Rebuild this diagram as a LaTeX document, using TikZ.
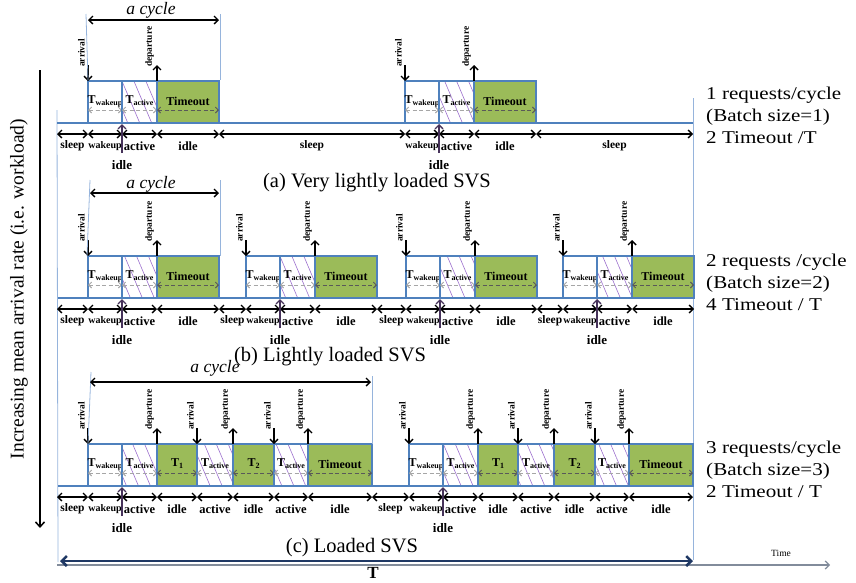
\documentclass[tikz,border=0pt]{standalone}
\usepackage{fontspec}
\setmainfont{Liberation Serif}
\usetikzlibrary{arrows.meta, patterns.meta}
\definecolor{boxblue}{RGB}{79,129,189}
\definecolor{lineblue}{RGB}{150,180,220}
\definecolor{timeoutgreen}{RGB}{155,187,89}
\definecolor{hatchpurple}{RGB}{155,110,205}
\definecolor{tickpurple}{RGB}{70,50,90}
\definecolor{navyT}{RGB}{31,56,100}
\definecolor{axisgrey}{RGB}{130,140,155}

\newcommand{\fs}[1]{\fontsize{#1}{#1}\selectfont}
\newcommand{\sub}[1]{\raisebox{-2pt}{\fs{8}#1}}

% boxes: left, right, base
\newcommand{\wakeupbox}[3]{%
  \draw[boxline, fill=white] (#1,#3) rectangle (#2,#3-42);
  \draw[inarrow] (#1,#3-13) -- (#2,#3-13);
  \node[boxlab] at ({(#1+#2)/2},#3-22) {T\sub{wakeup}};}
\newcommand{\activebox}[3]{%
  \fill[hatch] (#1,#3) rectangle (#2,#3-42);
  \draw[boxline] (#1,#3) rectangle (#2,#3-42);
  \draw[inarrow] (#1,#3-13) -- (#2,#3-13);
  \node[boxlab] at ({(#1+#2)/2},#3-22) {T\sub{active}};}
\newcommand{\idlebox}[4]{%
  \draw[boxline, fill=timeoutgreen] (#1,#3) rectangle (#2,#3-42);
  \draw[inarrow, draw=black!65] (#1,#3-13) -- (#2,#3-13);
  \node[boxlab] at ({(#1+#2)/2},#3-22) {#4};}

% events: x, top
\newcommand{\arrival}[2]{%
  \draw[evarrow] (#1,#2-16) -- (#1,#2);
  \node[evlab] at (#1-2,#2-13) {arrival};}
\newcommand{\departure}[2]{%
  \draw[evarrow] (#1,#2) -- (#1,#2-16);
  \node[evlab] at (#1-2,#2-13) {departure};}

% row under the axis: [style] left, right, base, label
\newcommand{\rowseg}[5][rowlab]{%
  \draw[rowarrow] (#2,#4+11) -- (#3,#4+11);
  \node[#1] at ({(#2+#3)/2},#4+23) {#5};}
\newcommand{\idletick}[2]{%
  \draw[tickarrow] (#1,#2+30) -- (#1,#2+1);
  \node[ticklab] at (#1,#2+42) {idle};}

% one request per cycle: start, base
\newcommand{\simplecycle}[2]{%
  \wakeupbox{#1}{#1+34}{#2}
  \activebox{#1+34}{#1+69}{#2}
  \idlebox{#1+69}{#1+131}{#2}{Timeout}
  \arrival{#1}{#2-42}
  \departure{#1+69}{#2-42}
  \rowseg[wklab]{#1}{#1+34}{#2}{wakeup}
  \rowseg{#1+34}{#1+69}{#2}{active}
  \rowseg{#1+69}{#1+131}{#2}{idle}
  \idletick{#1+34}{#2}}

% three requests per cycle: start, base
\newcommand{\batchcycle}[2]{%
  \wakeupbox{#1}{#1+34}{#2}
  \activebox{#1+34}{#1+69}{#2}
  \idlebox{#1+69}{#1+109}{#2}{T\sub{1}}
  \activebox{#1+109}{#1+145}{#2}
  \idlebox{#1+145}{#1+186}{#2}{T\sub{2}}
  \activebox{#1+186}{#1+220}{#2}
  \idlebox{#1+220}{#1+284}{#2}{Timeout}
  \arrival{#1}{#2-42}
  \arrival{#1+109}{#2-42}
  \arrival{#1+186}{#2-42}
  \departure{#1+69}{#2-42}
  \departure{#1+145}{#2-42}
  \departure{#1+220}{#2-42}
  \rowseg[wklab]{#1}{#1+34}{#2}{wakeup}
  \rowseg{#1+34}{#1+69}{#2}{active}
  \rowseg{#1+69}{#1+109}{#2}{idle}
  \rowseg{#1+109}{#1+145}{#2}{active}
  \rowseg{#1+145}{#1+186}{#2}{idle}
  \rowseg{#1+186}{#1+220}{#2}{active}
  \rowseg{#1+220}{#1+284}{#2}{idle}
  \idletick{#1+34}{#2}}

\begin{document}
\begin{tikzpicture}[
    x=1pt, y=-1pt,
    boxline/.style={draw=boxblue, line width=2pt},
    hatch/.style={pattern={Lines[angle=-67, distance=11pt, line width=0.6pt]}, pattern color=hatchpurple},
    inarrow/.style={draw=gray!70, line width=0.9pt, dash pattern=on 4pt off 2.5pt, {Straight Barb[length=3pt, width=6pt]}-{Straight Barb[length=3pt, width=6pt]}},
    rowarrow/.style={line width=1.3pt, {Straight Barb[length=4pt, width=8pt]}-{Straight Barb[length=4pt, width=8pt]}},
    evarrow/.style={line width=1.4pt, -{Straight Barb[length=4pt, width=8pt]}},
    tickarrow/.style={draw=tickpurple, line width=1.3pt, -{Straight Barb[length=4pt, width=8pt]}},
    axisline/.style={draw=boxblue, line width=2pt},
    frameline/.style={draw=lineblue, line width=0.8pt},
    cyclearrow/.style={line width=1.4pt, {Straight Barb[length=4pt, width=8pt]}-{Straight Barb[length=4pt, width=8pt]}},
    boxlab/.style={font=\fs{12}\bfseries, inner sep=0pt},
    rowlab/.style={font=\fs{12.5}\bfseries, inner sep=0pt},
    sllab/.style={font=\fs{11.5}\bfseries, inner sep=0pt},
    wklab/.style={font=\fs{10}\bfseries, inner sep=0pt},
    ticklab/.style={font=\fs{13}\bfseries, inner sep=0pt},
    evlab/.style={font=\fs{9.4}\bfseries, rotate=90, anchor=south west, inner sep=1pt},
    caption/.style={font=\fs{20.5}, inner sep=0pt},
    cyclab/.style={font=\fs{17.5}\itshape, inner sep=0pt},
    sidetext/.style={font=\fontsize{18}{22}\selectfont, align=left, anchor=west, xscale=1.17, inner sep=0pt}
]
\useasboundingbox (0,0) rectangle (856,582);

% Frame of the time line
\draw[frameline] (57,110) -- (58,562);
\draw[frameline] (693,98) -- (693,560);

% Workload axis
\coordinate (wtop) at (40,70);
\coordinate (wbot) at (40,528);
\draw[line width=1.5pt, -{Straight Barb[length=5pt, width=9pt]}] (wtop) -- (wbot);
\node[font=\fs{19.5}, rotate=90, inner sep=0pt] (wlab) at (19,289) {Increasing mean arrival rate (i.e. workload)};

% (a) Very lightly loaded SVS
\draw[axisline] (57,123) -- (693,123);
\simplecycle{88}{123}
\simplecycle{405}{123}
\rowseg[sllab]{57}{88}{123}{sleep}
\rowseg[sllab]{219}{405}{123}{sleep}
\rowseg[sllab]{536}{693}{123}{sleep}
\draw[frameline] (86,14) -- (88,80);
\draw[frameline] (220,14) -- (220,80);
\draw[cyclearrow] (88,20) -- (219,20);
\node[cyclab] (cyca) at (151,10) {a cycle};
\node[caption] (capa) at (377,183) {(a) Very lightly loaded SVS};
\node[sidetext] (sidea) at (706,115) {1 requests/cycle\\(Batch size=1)\\2 Timeout /T};

% (b) Lightly loaded SVS
\draw[axisline] (58,298) -- (693,298);
\foreach \s in {88,246,406,563} {\simplecycle{\s}{298}}
\rowseg[sllab]{57}{88}{298}{sleep}
\rowseg[sllab]{219}{246}{298}{sleep}
\rowseg[sllab]{377}{406}{298}{sleep}
\rowseg[sllab]{537}{563}{298}{sleep}
\draw[frameline] (90,180) -- (87,256);
\draw[frameline] (220,180) -- (220,256);
\draw[cyclearrow] (90,193) -- (219,193);
\node[cyclab] (cycb) at (151,184) {a cycle};
\node[caption] (capb) at (330,357) {(b) Lightly loaded SVS};
\node[sidetext] (sideb) at (706,282) {2 requests /cycle\\(Batch size=2)\\4 Timeout / T};

% (c) Loaded SVS
\draw[axisline] (58,486) -- (693,486);
\batchcycle{88}{486}
\batchcycle{409}{486}
\rowseg[sllab]{57}{88}{486}{sleep}
\rowseg[sllab]{372}{409}{486}{sleep}
\draw[frameline] (91,372) -- (88,444);
\draw[frameline] (372,376) -- (372,444);
\draw[cyclearrow] (90,382) -- (371,382);
\node[cyclab] (cycc) at (215,368) {a cycle};
\node[caption] (capc) at (352,548) {(c) Loaded SVS};
\node[sidetext] (sidec) at (706,469) {3 requests/cycle\\(Batch size=3)\\2 Timeout / T};

% Period T and time axis
\coordinate (tax0) at (57,565);
\coordinate (tax1) at (830,565);
\draw[draw=axisgrey, line width=1.2pt, -{Straight Barb[length=4pt, width=8pt]}] (tax0) -- (tax1);
\node[font=\fs{9.5}, inner sep=0pt] (timelab) at (781,553) {Time};
\coordinate (Tl) at (60,561);
\coordinate (Tr) at (693,561);
\draw[draw=navyT, line width=2.5pt, {Straight Barb[length=5pt, width=10pt]}-{Straight Barb[length=5pt, width=10pt]}] (Tl) -- (Tr);
\node[font=\fs{17}\bfseries, inner sep=0pt] (Tlab) at (373,573) {T};

\end{tikzpicture}
\end{document}
